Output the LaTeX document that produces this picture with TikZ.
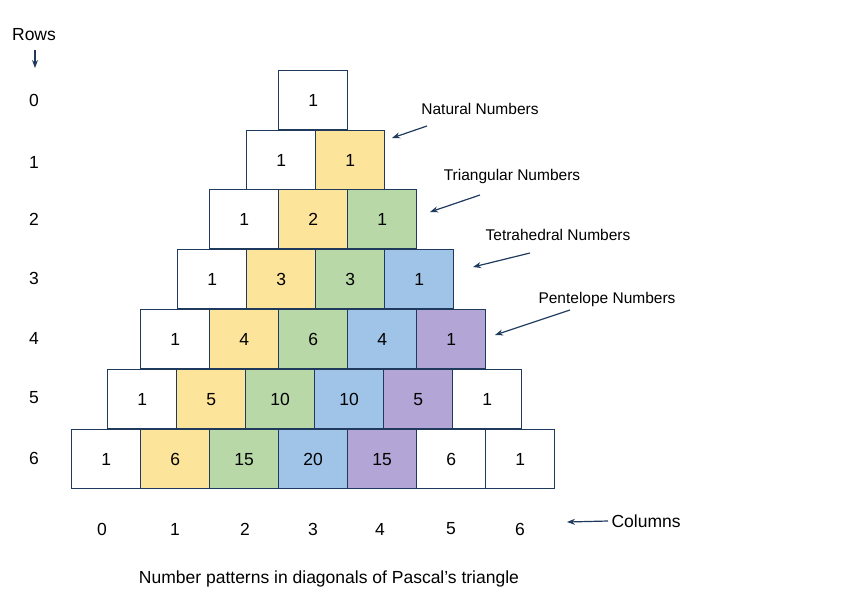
\documentclass[tikz,border=0pt]{standalone}
\usepackage{fontspec}
\setmainfont{Liberation Sans}
\usetikzlibrary{arrows.meta}
\definecolor{cy}{HTML}{FDE49B}
\definecolor{cg}{HTML}{B8D8A8}
\definecolor{cb}{HTML}{A0C4E8}
\definecolor{cp}{HTML}{B3A6D6}
\definecolor{navy}{HTML}{1F3A5C}
\begin{document}
\begin{tikzpicture}[x=1pt,y=-1pt,
  cell/.style={draw=navy,line width=1.3pt,minimum width=69pt,minimum height=59pt,inner sep=0pt,anchor=north west,font=\fontsize{17.5}{17.5}\selectfont},
  lbl/.style={font=\fontsize{17.5}{17.5}\selectfont},
  note/.style={font=\fontsize{15.5}{15.5}\selectfont},
  arr/.style={draw=navy,line width=1.2pt,-{Stealth[length=8pt,width=6pt]}}]
\useasboundingbox (0,0) rectangle (850,613);
\foreach \r/\sx/\ty/\vals in {
  0/278/70/{1/white},
  1/246/130/{1/white,1/cy},
  2/209/189/{1/white,2/cy,1/cg},
  3/177/249/{1/white,3/cy,3/cg,1/cb},
  4/140/309/{1/white,4/cy,6/cg,4/cb,1/cp},
  5/107/369/{1/white,5/cy,10/cg,10/cb,5/cp,1/white},
  6/71/429/{1/white,6/cy,15/cg,20/cb,15/cp,6/white,1/white}}{
  \foreach \v/\c [count=\i from 0] in \vals {
    \node[cell,fill=\c] (b\r-\i) at (\sx+69*\i,\ty) {\v};
  }
}
\node[lbl] (rows) at (34,35) {Rows};
\coordinate (ra) at (35,50);
\coordinate (rb) at (35,68);
\draw[arr,line width=1.3pt] (ra) -- (rb);
\foreach \r/\y in {0/100,1/162,2/219,3/278,4/338,5/398,6/458}
  \node[lbl] (rn\r) at (34,\y) {\r};
\foreach \c/\x in {0/102,1/175,2/245,3/313,4/380,5/451,6/520}
  \node[lbl] (cn\c) at (\x,529) {\c};
\node[lbl,anchor=west] (cols) at (608,521) {Columns};
\coordinate (ce) at (567,522);
\draw[arr] (cols.west) -- (ce);
\node[note] (nat) at (480,109) {Natural Numbers};
\node[note] (tri) at (512,176) {Triangular Numbers};
\node[note] (tet) at (558,235) {Tetrahedral Numbers};
\node[note] (pen) at (607,299) {Pentelope Numbers};
\coordinate (n1) at (427,126); \coordinate (n2) at (392,138);
\coordinate (t1) at (480,195); \coordinate (t2) at (430,212);
\coordinate (e1) at (530,253); \coordinate (e2) at (473,267);
\coordinate (p1) at (570,310); \coordinate (p2) at (495,335);
\draw[arr] (n1) -- (n2);
\draw[arr] (t1) -- (t2);
\draw[arr] (e1) -- (e2);
\draw[arr] (p1) -- (p2);
\node[lbl] (cap) at (329,579) {Number patterns in diagonals of Pascal\char"0027 s triangle};
\end{tikzpicture}
\end{document}
